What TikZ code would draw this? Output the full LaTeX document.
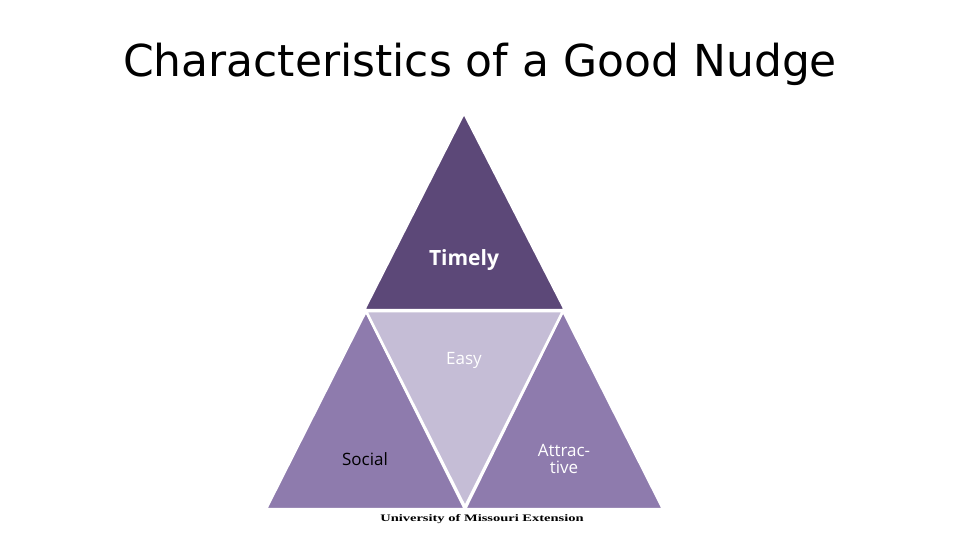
\documentclass[tikz,border=0pt]{standalone}
\usepackage{fontspec}
\setmainfont{Open Sans}
\newfontfamily\titlefont{DejaVu Sans}
\newfontfamily\logofont{Liberation Serif}
\definecolor{topc}{HTML}{5C4878}
\definecolor{sidec}{HTML}{8E7BAD}
\definecolor{midc}{HTML}{C5BDD6}
\begin{document}
\begin{tikzpicture}[x=1pt,y=-1pt,
  tri/.style={draw=white,line width=2.5pt,line join=miter}]
\useasboundingbox (0,0) rectangle (960,540);
\node[font=\titlefont\fontsize{44}{48}\selectfont] (title) at (480,64) {Characteristics of a Good Nudge};
\fill[topc,tri] (464,113) -- (565,310) -- (364,310) -- cycle;
\fill[sidec,tri] (366,311) -- (465,509) -- (266,509) -- cycle;
\fill[sidec,tri] (563,311) -- (663,509) -- (465,509) -- cycle;
\fill[midc,tri] (366,311) -- (563,311) -- (465,507) -- cycle;
\node[white,font=\fontsize{21}{24}\selectfont\bfseries] (t) at (464,260) {Timely};
\node[white,font=\fontsize{17}{19}\selectfont] (e) at (464,360) {Easy};
\node[black,font=\fontsize{17}{19}\selectfont] (s) at (365,459) {Social};
\node[white,font=\fontsize{17}{17}\selectfont,align=center] (a) at (564,459) {Attrac-\\tive};
\node[font=\logofont\bfseries\fontsize{10}{11}\selectfont,xscale=1.45] (u) at (482,519) {University of Missouri Extension};
\end{tikzpicture}
\end{document}
